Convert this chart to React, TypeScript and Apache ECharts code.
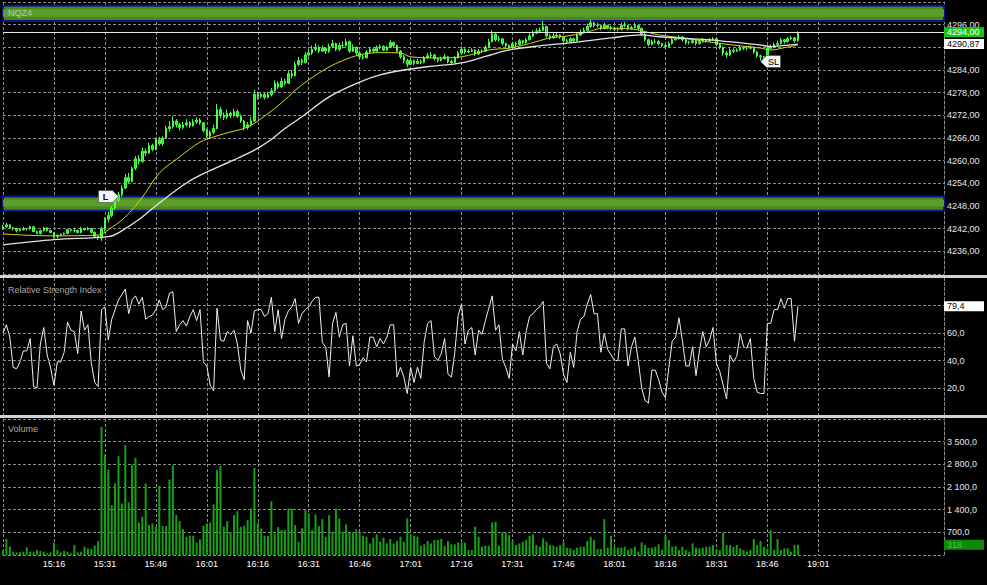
import React, { useEffect, useRef } from "react";
import * as echarts from "echarts";

// ---------- data ----------
const sessionStart = "15:01";
const sessionEnd = "19:38";
const timeTicks = ["15:16", "15:31", "15:46", "16:01", "16:16", "16:31", "16:46", "17:01", "17:16", "17:31", "17:46", "18:01", "18:16", "18:31", "18:46", "19:01"];
const gridTimes = ["15:01", ...timeTicks];

// one bar per minute from 15:01: [open, close, low, high]
const ohlc: number[][] = [
  [4242.0, 4242.5, 4241.75, 4243.0], [4242.5, 4243.0, 4242.25, 4243.5], [4243.0, 4242.25, 4242.0, 4243.25], [4242.25, 4242.0, 4241.5, 4242.5],
  [4242.0, 4241.5, 4241.0, 4242.25], [4241.5, 4241.75, 4241.25, 4242.0], [4241.75, 4242.0, 4241.5, 4242.5], [4242.0, 4242.0, 4241.5, 4242.25],
  [4242.0, 4242.5, 4241.75, 4242.75], [4242.5, 4241.25, 4241.0, 4242.5], [4241.25, 4240.75, 4240.5, 4241.5], [4240.75, 4241.5, 4240.5, 4241.75],
  [4241.5, 4242.25, 4241.25, 4242.5], [4242.25, 4241.5, 4241.25, 4242.25], [4241.5, 4241.0, 4240.75, 4241.75], [4241.0, 4240.0, 4239.5, 4241.0],
  [4240.0, 4240.25, 4239.5, 4240.5], [4240.25, 4240.5, 4240.0, 4240.75], [4240.5, 4240.75, 4240.25, 4241.0], [4240.75, 4241.75, 4240.5, 4242.0],
  [4241.75, 4241.5, 4241.25, 4242.0], [4241.5, 4241.5, 4241.0, 4242.25], [4241.5, 4241.0, 4240.75, 4241.75], [4241.0, 4242.0, 4240.75, 4242.5],
  [4242.0, 4241.75, 4241.5, 4242.25], [4241.75, 4242.0, 4241.5, 4242.5], [4242.0, 4241.0, 4240.75, 4242.0], [4241.0, 4240.0, 4239.75, 4241.25],
  [4240.0, 4239.5, 4239.0, 4240.25], [4239.5, 4242.0, 4238.75, 4242.5], [4242.0, 4244.5, 4241.25, 4245.0], [4244.5, 4245.5, 4243.75, 4246.5],
  [4245.5, 4247.5, 4245.0, 4248.0], [4247.5, 4249.5, 4247.0, 4250.25], [4249.5, 4251.0, 4249.0, 4251.75], [4251.0, 4252.75, 4250.5, 4253.5],
  [4252.75, 4255.5, 4252.5, 4256.5], [4255.5, 4254.5, 4254.0, 4256.75], [4254.5, 4258.0, 4254.25, 4258.5], [4258.0, 4260.5, 4257.5, 4261.25],
  [4260.5, 4259.75, 4259.0, 4261.5], [4259.75, 4262.5, 4259.5, 4263.5], [4262.5, 4262.0, 4261.25, 4263.25], [4262.0, 4264.0, 4261.75, 4264.75],
  [4264.0, 4263.0, 4262.5, 4264.5], [4263.0, 4265.5, 4262.75, 4266.0], [4265.5, 4264.5, 4264.0, 4266.25], [4264.5, 4266.0, 4264.0, 4266.5],
  [4266.0, 4268.5, 4265.75, 4269.25], [4268.5, 4269.0, 4267.75, 4270.5], [4269.0, 4270.5, 4268.5, 4271.75], [4270.5, 4269.5, 4268.75, 4271.0],
  [4269.5, 4268.75, 4268.0, 4270.0], [4268.75, 4269.5, 4268.25, 4270.25], [4269.5, 4270.0, 4269.0, 4271.0], [4270.0, 4269.25, 4268.75, 4270.5],
  [4269.25, 4270.25, 4269.0, 4271.0], [4270.25, 4270.75, 4269.75, 4271.5], [4270.75, 4270.0, 4269.5, 4271.25], [4270.0, 4268.0, 4267.5, 4270.25],
  [4268.0, 4266.5, 4266.0, 4268.5], [4266.5, 4267.5, 4265.75, 4268.0], [4267.5, 4268.5, 4267.0, 4269.5], [4268.5, 4273.5, 4268.25, 4275.0],
  [4273.5, 4272.0, 4271.25, 4274.25], [4272.0, 4271.5, 4270.75, 4272.75], [4271.5, 4272.5, 4271.0, 4273.5], [4272.5, 4272.0, 4271.25, 4273.0],
  [4272.0, 4273.0, 4271.5, 4273.75], [4273.0, 4271.75, 4271.25, 4273.5], [4271.75, 4270.5, 4270.0, 4272.25], [4270.5, 4268.75, 4268.0, 4270.75],
  [4268.75, 4269.5, 4268.25, 4270.25], [4269.5, 4270.5, 4269.0, 4271.5], [4270.5, 4277.5, 4270.25, 4278.75], [4277.5, 4277.0, 4276.25, 4278.25],
  [4277.0, 4277.5, 4276.5, 4278.0], [4277.5, 4276.75, 4276.25, 4278.0], [4276.75, 4277.5, 4276.5, 4278.25], [4277.5, 4278.5, 4277.0, 4279.25],
  [4278.5, 4280.5, 4278.25, 4281.25], [4280.5, 4279.5, 4279.0, 4281.0], [4279.5, 4281.0, 4279.25, 4282.0], [4281.0, 4280.5, 4280.0, 4281.75],
  [4280.5, 4283.0, 4280.25, 4283.75], [4283.0, 4282.5, 4281.75, 4284.0], [4282.5, 4285.5, 4282.25, 4286.25], [4285.5, 4286.5, 4285.0, 4287.5],
  [4286.5, 4286.0, 4285.25, 4287.0], [4286.0, 4288.0, 4285.75, 4288.75], [4288.0, 4288.5, 4287.5, 4289.5], [4288.5, 4289.5, 4288.0, 4290.5],
  [4289.5, 4290.0, 4289.0, 4291.0], [4290.0, 4289.0, 4288.5, 4290.5], [4289.0, 4289.75, 4288.75, 4290.5], [4289.75, 4289.0, 4288.25, 4290.0],
  [4289.0, 4290.25, 4288.5, 4291.0], [4290.25, 4291.0, 4289.75, 4292.0], [4291.0, 4289.5, 4289.0, 4291.25], [4289.5, 4290.5, 4289.0, 4291.25],
  [4290.5, 4290.5, 4289.75, 4291.5], [4290.5, 4291.5, 4290.25, 4292.25], [4291.5, 4289.0, 4288.5, 4291.75], [4289.0, 4290.0, 4288.75, 4290.75],
  [4290.0, 4288.5, 4288.0, 4290.25], [4288.5, 4287.5, 4287.0, 4289.0], [4287.5, 4287.25, 4286.75, 4288.0], [4287.25, 4288.75, 4287.0, 4289.25],
  [4288.75, 4289.5, 4288.5, 4290.0], [4289.5, 4289.0, 4288.5, 4290.0], [4289.0, 4290.0, 4288.75, 4290.5], [4290.0, 4290.25, 4289.5, 4290.75],
  [4290.25, 4289.25, 4289.0, 4290.5], [4289.25, 4290.0, 4289.0, 4290.5], [4290.0, 4291.25, 4289.75, 4292.0], [4291.25, 4290.5, 4290.0, 4291.5],
  [4290.5, 4289.0, 4288.5, 4290.75], [4289.0, 4287.5, 4287.0, 4289.25], [4287.5, 4286.5, 4285.75, 4288.0], [4286.5, 4285.5, 4284.75, 4287.0],
  [4285.5, 4286.5, 4285.25, 4287.0], [4286.5, 4285.75, 4285.25, 4286.75], [4285.75, 4286.25, 4285.5, 4287.0], [4286.25, 4286.0, 4285.5, 4286.75],
  [4286.0, 4287.25, 4285.75, 4287.75], [4287.25, 4287.75, 4287.0, 4288.5], [4287.75, 4288.0, 4287.25, 4288.75], [4288.0, 4287.0, 4286.5, 4288.25],
  [4287.0, 4286.5, 4286.0, 4287.25], [4286.5, 4287.0, 4286.25, 4287.5], [4287.0, 4287.5, 4286.75, 4288.25], [4287.5, 4286.25, 4285.75, 4287.75],
  [4286.25, 4286.0, 4285.5, 4286.75], [4286.0, 4287.25, 4285.75, 4287.75], [4287.25, 4288.5, 4287.0, 4289.0], [4288.5, 4289.5, 4288.25, 4290.25],
  [4289.5, 4288.75, 4288.25, 4289.75], [4288.75, 4289.0, 4288.5, 4289.5], [4289.0, 4289.25, 4288.75, 4289.75], [4289.25, 4288.25, 4287.75, 4289.5],
  [4288.25, 4289.0, 4288.0, 4289.5], [4289.0, 4289.0, 4288.5, 4289.5], [4289.0, 4290.0, 4288.75, 4290.5], [4290.0, 4291.5, 4289.75, 4292.25],
  [4291.5, 4293.5, 4291.25, 4294.5], [4293.5, 4292.0, 4291.5, 4293.75], [4292.0, 4292.25, 4291.5, 4293.0], [4292.25, 4291.0, 4290.5, 4292.5],
  [4291.0, 4290.5, 4290.0, 4291.25], [4290.5, 4290.0, 4289.5, 4290.75], [4290.0, 4291.0, 4289.75, 4291.5], [4291.0, 4290.75, 4290.25, 4291.5],
  [4290.75, 4291.75, 4290.5, 4292.25], [4291.75, 4291.25, 4290.75, 4292.0], [4291.25, 4292.0, 4291.0, 4292.5], [4292.0, 4293.0, 4291.75, 4293.75],
  [4293.0, 4293.75, 4292.75, 4294.5], [4293.75, 4294.25, 4293.5, 4295.0], [4294.25, 4294.5, 4293.75, 4295.25], [4294.5, 4295.5, 4294.25, 4297.0],
  [4295.5, 4293.0, 4292.5, 4295.75], [4293.0, 4292.5, 4292.0, 4293.5], [4292.5, 4293.0, 4292.25, 4293.75], [4293.0, 4293.25, 4292.5, 4293.75],
  [4293.25, 4292.75, 4292.25, 4293.5], [4292.75, 4291.75, 4291.25, 4293.0], [4291.75, 4291.5, 4291.0, 4292.25], [4291.5, 4292.25, 4291.25, 4292.75],
  [4292.25, 4291.75, 4291.25, 4292.5], [4291.75, 4293.25, 4291.5, 4293.75], [4293.25, 4294.0, 4293.0, 4294.75], [4294.0, 4294.5, 4293.75, 4295.25],
  [4294.5, 4295.5, 4294.25, 4296.25], [4295.5, 4296.5, 4295.25, 4297.25], [4296.5, 4295.75, 4295.25, 4296.75], [4295.75, 4295.75, 4295.25, 4296.5],
  [4295.75, 4295.0, 4294.5, 4296.0], [4295.0, 4295.75, 4294.75, 4296.5], [4295.75, 4295.25, 4294.75, 4296.0], [4295.25, 4295.0, 4294.5, 4295.75],
  [4295.0, 4294.75, 4294.25, 4295.5], [4294.75, 4294.75, 4294.25, 4295.25], [4294.75, 4295.75, 4294.5, 4296.5], [4295.75, 4295.75, 4295.25, 4296.75],
  [4295.75, 4295.0, 4294.5, 4296.0], [4295.0, 4295.25, 4294.75, 4295.75], [4295.25, 4295.75, 4295.0, 4296.5], [4295.75, 4295.0, 4294.5, 4296.0],
  [4295.0, 4293.5, 4293.0, 4295.25], [4293.5, 4292.0, 4291.5, 4293.75], [4292.0, 4290.75, 4290.25, 4292.25], [4290.75, 4291.5, 4290.5, 4292.0],
  [4291.5, 4291.5, 4291.0, 4292.25], [4291.5, 4291.0, 4290.5, 4292.0], [4291.0, 4290.5, 4290.0, 4291.25], [4290.5, 4290.25, 4289.75, 4291.0],
  [4290.25, 4291.0, 4290.0, 4291.5], [4291.0, 4292.0, 4290.75, 4292.5], [4292.0, 4292.25, 4291.75, 4292.75], [4292.25, 4292.75, 4292.0, 4293.25],
  [4292.75, 4292.0, 4291.5, 4293.0], [4292.0, 4291.25, 4290.75, 4292.25], [4291.25, 4291.25, 4290.75, 4291.75], [4291.25, 4291.75, 4291.0, 4292.25],
  [4291.75, 4291.0, 4290.5, 4292.0], [4291.0, 4291.5, 4290.75, 4292.0], [4291.5, 4292.0, 4291.25, 4292.5], [4292.0, 4291.75, 4291.25, 4292.25],
  [4291.75, 4292.0, 4291.5, 4292.5], [4292.0, 4292.25, 4291.75, 4292.75], [4292.25, 4290.75, 4290.25, 4292.5], [4290.75, 4290.0, 4289.5, 4291.0],
  [4290.0, 4288.5, 4287.75, 4290.25], [4288.5, 4288.0, 4287.25, 4289.0], [4288.0, 4289.25, 4287.75, 4289.75], [4289.25, 4289.0, 4288.5, 4289.75],
  [4289.0, 4289.25, 4288.75, 4289.75], [4289.25, 4290.0, 4289.0, 4290.5], [4290.0, 4289.75, 4289.25, 4290.25], [4289.75, 4289.75, 4289.25, 4290.25],
  [4289.75, 4290.0, 4289.5, 4290.5], [4290.0, 4288.75, 4288.25, 4290.25], [4288.75, 4287.75, 4287.25, 4289.0], [4287.75, 4287.5, 4286.5, 4288.0],
  [4287.5, 4287.25, 4286.25, 4287.75], [4287.25, 4289.75, 4287.0, 4290.25], [4289.75, 4290.0, 4289.5, 4290.75], [4290.0, 4290.75, 4289.75, 4291.25],
  [4290.75, 4291.0, 4290.5, 4291.75], [4291.0, 4292.0, 4290.75, 4292.5], [4292.0, 4291.5, 4291.0, 4292.25], [4291.5, 4292.25, 4291.25, 4292.75],
  [4292.25, 4292.5, 4292.0, 4293.0], [4292.5, 4291.75, 4291.25, 4292.75], [4291.75, 4294.0, 4291.5, 4294.25],
];

const rsi = [
  60, 66, 57, 35, 34, 39, 47, 47, 56, 21, 20, 52, 64, 44, 35, 22, 39, 39, 46, 68,
  62, 61, 45, 76, 62, 66, 38, 24, 21, 77, 79, 55, 70, 77, 84, 88, 92, 74, 84, 87,
  81, 86, 70, 72, 73, 77, 84, 77, 79, 89, 90, 61, 66, 69, 65, 72, 77, 69, 77, 39,
  36, 22, 18, 78, 55, 54, 61, 59, 62, 52, 33, 26, 69, 60, 76, 77, 77, 72, 74, 86,
  61, 77, 56, 70, 76, 79, 85, 67, 74, 77, 79, 83, 86, 86, 53, 50, 28, 67, 75, 57,
  66, 67, 36, 58, 36, 37, 42, 39, 57, 57, 50, 56, 52, 57, 66, 66, 28, 35, 28, 16,
  35, 24, 35, 27, 54, 67, 69, 43, 40, 45, 56, 30, 28, 46, 73, 81, 52, 62, 64, 44,
  62, 59, 69, 78, 87, 62, 66, 41, 35, 27, 52, 47, 61, 44, 61, 72, 74, 77, 79, 83,
  38, 34, 50, 52, 45, 30, 24, 46, 35, 61, 70, 72, 81, 88, 74, 74, 46, 60, 48, 44,
  40, 40, 63, 63, 36, 50, 57, 40, 20, 11, 9, 33, 33, 26, 17, 13, 35, 54, 57, 71,
  54, 36, 36, 50, 29, 47, 61, 50, 55, 64, 38, 32, 22, 12, 44, 39, 43, 60, 50, 49,
  56, 27, 17, 16, 16, 67, 67, 77, 77, 85, 78, 85, 85, 54, 79.4,
];

const volume = [
  150, 490, 257, 103, 82, 82, 103, 237, 103, 82, 154, 123, 103, 50, 82, 380, 154, 82, 123, 103,
  50, 308, 82, 103, 257, 205, 185, 287, 431, 3954, 3101, 2639, 1540, 2208, 3050, 1592, 3389, 1623, 2793, 2999,
  1006, 1181, 2208, 924, 976, 873, 2136, 893, 893, 2331, 2773, 1232, 1047, 801, 565, 596, 596, 380, 483, 904,
  976, 1006, 1561, 2619, 2752, 873, 1047, 698, 1232, 1356, 873, 904, 1078, 1438, 2690, 1006, 822, 596, 596, 1664,
  667, 863, 770, 770, 1438, 1438, 924, 411, 822, 1386, 1284, 770, 1253, 893, 1109, 565, 1232, 719, 1438, 1130,
  719, 945, 698, 698, 791, 698, 596, 565, 360, 534, 637, 411, 534, 360, 493, 360, 431, 565, 411, 1130,
  637, 596, 565, 287, 329, 431, 360, 462, 462, 493, 287, 431, 329, 329, 390, 390, 380, 154, 154, 873,
  565, 257, 287, 277, 1006, 1027, 287, 698, 698, 616, 431, 308, 360, 411, 462, 596, 637, 308, 257, 513,
  411, 308, 287, 257, 308, 390, 226, 205, 154, 226, 257, 257, 431, 565, 462, 185, 185, 1109, 226, 596,
  257, 226, 226, 257, 154, 205, 257, 103, 390, 308, 226, 226, 257, 329, 154, 616, 462, 257, 277, 154,
  257, 154, 103, 360, 226, 205, 226, 257, 257, 308, 154, 154, 698, 308, 308, 257, 308, 205, 154, 103,
  154, 493, 308, 431, 257, 205, 770, 154, 493, 154, 205, 205, 103, 308, 318,
];

// moving averages read at sampled minutes: [minute index from 15:01, value]
const fastMa: number[][] = [
  [0, 4240.6], [14, 4240.1], [28, 4240.3], [31, 4241.7], [36, 4245.1], [41, 4250.3], [46, 4256.7], [52, 4261.0],
  [58, 4264.9], [62, 4266.3], [67, 4267.6], [72, 4268.9], [77, 4271.8], [82, 4275.3], [86, 4278.6], [90, 4281.4],
  [96, 4284.8], [100, 4286.5], [105, 4288.0], [111, 4288.6], [117, 4288.5], [120, 4287.5], [128, 4287.2], [135, 4287.5],
  [143, 4289.3], [149, 4289.8], [155, 4291.0], [161, 4292.5], [166, 4293.0], [171, 4293.8], [177, 4295.1], [182, 4295.0],
  [187, 4294.6], [193, 4293.3], [200, 4292.5], [208, 4291.4], [215, 4290.6], [223, 4289.8], [226, 4289.3], [230, 4289.9], [234, 4290.6],
];
const slowMa: number[][] = [
  [0, 4237.7], [15, 4239.1], [31, 4239.9], [34, 4240.9], [40, 4244.4], [46, 4248.8], [54, 4254.1], [60, 4257.0],
  [68, 4260.2], [74, 4262.8], [78, 4265.0], [83, 4268.5], [88, 4271.6], [96, 4276.9], [105, 4280.8], [111, 4282.7],
  [118, 4284.0], [126, 4285.0], [135, 4285.9], [142, 4287.6], [149, 4289.3], [158, 4290.4], [167, 4291.2], [179, 4292.5],
  [188, 4293.3], [193, 4292.8], [200, 4292.4], [208, 4292.0], [216, 4291.3], [223, 4290.6], [226, 4290.2], [230, 4290.5], [234, 4290.87],
];

// price zones: [outer low, inner low, inner high, outer high]
const upperZone = [4297, 4298.1, 4300.1, 4301];
const lowerZone = [4246.75, 4247.9, 4249.7, 4250.5];
const lastPrice = 4294;
const lastSlowMa = 4290.87;
const lastRsi = 79.4;
const lastVolume = 318;
const entryMark = { time: "15:35", price: 4250.5, label: "L" };
const stopMark = { time: "18:44", price: 4286.25, label: "SL" };
const rsiLevels = [20, 40, 50, 60, 80];

// ---------- helpers ----------
const toMin = (s: string) => { const [h, m] = s.split(":").map(Number); return h * 60 + m; };
const toLabel = (m: number) => `${Math.floor(m / 60)}:${String(m % 60).padStart(2, "0")}`;
const categories: string[] = [];
for (let m = toMin(sessionStart); m <= toMin(sessionEnd); m++) categories.push(toLabel(m));
const tickSet = new Set(timeTicks);
const gridSet = new Set(gridTimes);
const fmtPrice = (v: number) => v.toFixed(2).replace(".", ",");
const fmtVol = (v: number) => {
  const s = Math.round(v).toString().replace(/\B(?=(\d{3})+(?!\d))/g, " ");
  return s + ",0";
};

const FONT = "Liberation Sans";
const GRID_COLOR = "#8c8c8c";
const DASH = [3, 2];

export default function App() {
  const ref = useRef<HTMLDivElement>(null);
  useEffect(() => {
    document.body.style.margin = "0";
    document.body.style.background = "#000";
    const chart = echarts.init(ref.current!, undefined, { renderer: "svg" });
    const grids = [
      { left: 3, right: 43, top: 2, height: 272 },
      { left: 3, right: 43, top: 278, height: 137.5 },
      { left: 3, right: 43, top: 419, height: 136 },
    ];
    const xAxes = grids.map((_, k) => ({
      type: "category",
      gridIndex: k,
      data: categories,
      boundaryGap: false,
      axisLine: { show: false },
      axisTick: { show: false },
      axisLabel: k === 2
        ? { show: true, color: "#ffffff", fontSize: 9, fontFamily: FONT, margin: 4, interval: (_i: number, v: string) => tickSet.has(v) }
        : { show: false },
      splitLine: { show: true, interval: (_i: number, v: string) => gridSet.has(v), lineStyle: { color: GRID_COLOR, type: DASH, width: 1 } },
    }));
    const axisLine = { show: true, lineStyle: { color: GRID_COLOR, type: DASH, width: 1 } };
    const labelBase = { color: "#e6e6e6", fontSize: 9, fontFamily: FONT, margin: 3 };
    const tag = (text: string, bg: string, fg: string) => ({
      show: true, position: "end", distance: 0, formatter: text,
      backgroundColor: bg, color: fg, fontSize: 9, fontFamily: FONT,
      padding: [1, 2, 0, 3], width: 35, lineHeight: 9,
    });
    const hidden = { color: "rgba(0,0,0,0)", width: 1, type: "solid" };
    const arrowR = "path://M0,0L14,0L20,6L14,12L0,12Z";
    const arrowL = "path://M6,0L20,0L20,12L6,12L0,6Z";
    const zoneOuter = (z: number[]) => [{ yAxis: z[0] }, { yAxis: z[3] }];
    const zoneInner = (z: number[]) => [{ yAxis: z[1], itemStyle: { color: "#5c9e2c", borderWidth: 0 } }, { yAxis: z[2] }];

    chart.setOption({
      backgroundColor: "#000000",
      animation: false,
      textStyle: { fontFamily: FONT },
      grid: grids,
      xAxis: xAxes,
      yAxis: [
        {
          type: "value", gridIndex: 0, position: "right", min: 4230, max: 4302, interval: 6,
          axisLine, axisTick: { show: false },
          axisLabel: { ...labelBase, formatter: (v: number) => (v === 4230 || v === 4302 || v === 4290 ? "" : fmtPrice(v)) },
          splitLine: { show: true, lineStyle: { color: GRID_COLOR, type: DASH, width: 1 } },
        },
        {
          type: "value", gridIndex: 1, position: "right", min: 0, max: 100, interval: 10,
          axisLine, axisTick: { show: false },
          axisLabel: { ...labelBase, formatter: (v: number) => (v === 20 || v === 40 || v === 60 ? v.toFixed(1).replace(".", ",") : "") },
          splitLine: { show: false },
        },
        {
          type: "value", gridIndex: 2, position: "right", min: 0, max: 4200, interval: 700,
          axisLine, axisTick: { show: false },
          axisLabel: { ...labelBase, formatter: (v: number) => (v === 0 || v === 4200 ? "" : fmtVol(v)) },
          splitLine: { show: true, lineStyle: { color: GRID_COLOR, type: DASH, width: 1 } },
        },
      ],
      series: [
        {
          type: "candlestick", name: "NQZ4", xAxisIndex: 0, yAxisIndex: 0,
          data: ohlc, barWidth: 2, z: 3,
          itemStyle: { color: "#22e622", color0: "#22e622", borderColor: "#4dff4d", borderColor0: "#4dff4d", borderWidth: 1 },
          markArea: {
            silent: true,
            itemStyle: { color: "#478a1a", borderColor: "#10148c", borderWidth: 2 },
            data: [zoneOuter(upperZone), zoneOuter(lowerZone), zoneInner(upperZone), zoneInner(lowerZone)],
          },
          markLine: {
            silent: true, symbol: ["none", "none"],
            data: [
              { yAxis: lastPrice, lineStyle: { color: "#e8e8e8", width: 1, type: "solid" }, label: tag(fmtPrice(lastPrice), "#1bc41b", "#ffffff") },
            ],
          },
          markPoint: {
            silent: true,
            data: [
              {
                coord: [entryMark.time, entryMark.price], symbol: arrowR, symbolSize: [20, 12], symbolOffset: [-10, 0], symbolKeepAspect: false,
                itemStyle: { color: "#f2f2f2", borderColor: "#444", borderWidth: 0.6 },
                label: { show: true, formatter: entryMark.label, color: "#000", fontSize: 9, fontWeight: "bold", position: "inside", offset: [-3, 0] },
              },
              {
                coord: [stopMark.time, stopMark.price], symbol: arrowL, symbolSize: [20, 12], symbolOffset: [10, 0], symbolKeepAspect: false,
                itemStyle: { color: "#f2f2f2", borderColor: "#444", borderWidth: 0.6 },
                label: { show: true, formatter: stopMark.label, color: "#000", fontSize: 9, position: "inside", offset: [3, 0] },
              },
            ],
          },
        },
        {
          type: "line", name: "fast", xAxisIndex: 0, yAxisIndex: 0, z: 4,
          data: fastMa.map(([i, v]) => [categories[i], v]),
          smooth: 0.35, showSymbol: false, symbol: "none",
          lineStyle: { color: "#d6d61e", width: 1 },
        },
        {
          type: "line", name: "slow", xAxisIndex: 0, yAxisIndex: 0, z: 4,
          data: slowMa.map(([i, v]) => [categories[i], v]),
          smooth: 0.35, showSymbol: false, symbol: "none",
          lineStyle: { color: "#e4e4e4", width: 1.3 },
          markLine: {
            silent: true, symbol: ["none", "none"],
            data: [{ yAxis: lastSlowMa, lineStyle: hidden, label: tag(fmtPrice(lastSlowMa), "#ffffff", "#000000") }],
          },
        },
        {
          type: "line", name: "RSI", xAxisIndex: 1, yAxisIndex: 1,
          data: rsi, showSymbol: false, symbol: "none",
          lineStyle: { color: "#f0f0f0", width: 1 },
          markLine: {
            silent: true, symbol: ["none", "none"],
            data: [
              ...rsiLevels.map((l) => ({ yAxis: l, lineStyle: { color: GRID_COLOR, type: DASH, width: 1 }, label: { show: false } })),
              { yAxis: lastRsi, lineStyle: hidden, label: tag(lastRsi.toFixed(1).replace(".", ","), "#ffffff", "#000000") },
            ],
          },
        },
        {
          type: "bar", name: "Volume", xAxisIndex: 2, yAxisIndex: 2,
          data: volume, barWidth: 2,
          itemStyle: { color: "#16a016" },
          markLine: {
            silent: true, symbol: ["none", "none"],
            data: [{ yAxis: lastVolume, lineStyle: hidden, label: tag(String(lastVolume), "#0b8a0b", "#55c055") }],
          },
        },
      ],
      graphic: [
        { type: "rect", x: 0, y: 275, z: 100, shape: { x: 0, y: 0, width: 987, height: 3 }, style: { fill: "#d2d2d2" } },
        { type: "rect", x: 0, y: 415, z: 100, shape: { x: 0, y: 0, width: 987, height: 3 }, style: { fill: "#d2d2d2" } },
        { type: "text", x: 8, y: 8, z: 100, style: { text: "NQZ4", fill: "#b8c8b0", fontSize: 9, fontFamily: FONT } },
        { type: "text", x: 8, y: 285, z: 100, style: { text: "Relative Strength Index", fill: "#a8a8a8", fontSize: 9, fontFamily: FONT } },
        { type: "text", x: 8, y: 424, z: 100, style: { text: "Volume", fill: "#a8a8a8", fontSize: 9, fontFamily: FONT } },
      ],
    });
    return () => chart.dispose();
  }, []);
  return <div ref={ref} style={{ position: "fixed", left: 0, top: 0, width: 987, height: 585, background: "#000" }} />;
}
